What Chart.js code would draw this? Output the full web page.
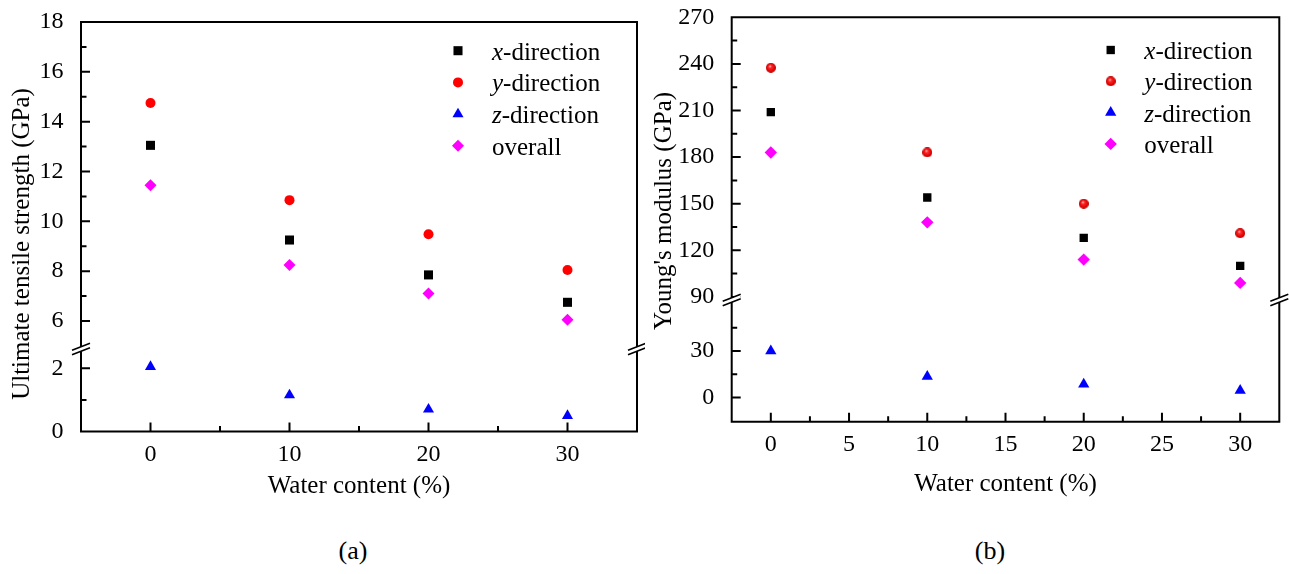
<!DOCTYPE html>
<html lang="en">
<head>
    <meta charset="UTF-8">
    <title>Strength and modulus vs water content</title>
    <script src="https://cdn.jsdelivr.net/npm/chart.js"></script>
    <style>
        body {
            margin: 0;
            background: #fff;
            width: 1289px;
            height: 574px;
            position: relative;
            overflow: hidden;
            font-family: "Liberation Serif", "Times New Roman", serif;
        }
        canvas {
            position: absolute;
            top: 0;
            display: block;
        }
        #chartA { left: 0; }
        #chartB { left: 645px; }
        .caption {
            position: absolute;
            top: 536px;
            font-size: 26px;
            line-height: 30px;
            transform: translateX(-50%);
            color: #000;
        }
    </style>
</head>
<body>
    <canvas id="chartA" width="645" height="520"></canvas>
    <canvas id="chartB" width="644" height="520"></canvas>
    <div class="caption" style="left:353px">(a)</div>
    <div class="caption" style="left:990px">(b)</div>

    <script>
        // water content (%), shared by both panels
        const waterContent = [0, 10, 20, 30];
        const seriesLabels = ['x-direction', 'y-direction', 'z-direction', 'overall'];

        // (a) ultimate tensile strength (GPa)
        const utsX = [13.05, 9.25, 7.85, 6.75];
        const utsY = [14.75, 10.85, 9.48, 8.05];
        const utsZ = [2.05, 1.15, 0.70, 0.50];
        const utsOverall = [11.45, 8.25, 7.10, 6.05];

        // (b) Young's modulus (GPa)
        const ymX = [209, 154, 128, 110];
        const ymY = [237.5, 183, 150, 131];
        const ymZ = [30, 13.5, 8.5, 4.5];
        const ymOverall = [183, 138, 114, 99];

        // tick values
        const xTicksA = [0, 10, 20, 30];
        const xMinorA = [5, 15, 25];
        const yUpTicksA = [6, 8, 10, 12, 14, 16, 18];
        const yUpMinorA = [7, 9, 11, 13, 15, 17];
        const yLoTicksA = [0, 2];
        const yLoMinorA = [1];

        const xTicksB = [0, 5, 10, 15, 20, 25, 30];
        const xMinorB = [2.5, 7.5, 12.5, 17.5, 22.5, 27.5];
        const yUpTicksB = [90, 120, 150, 180, 210, 240, 270];
        const yUpMinorB = [105, 135, 165, 195, 225, 255];
        const yLoTicksB = [0, 30];
        const yLoMinorB = [15, 45];

        const FONT = '"Liberation Serif", "Times New Roman", serif';
        Chart.defaults.font.family = FONT;
        Chart.defaults.color = '#000';

        // shaded red ball used for the y-direction points in (b)
        function makeSphere(d) {
            const c = document.createElement('canvas');
            c.width = d;
            c.height = d;
            const g = c.getContext('2d');
            const grad = g.createRadialGradient(d * 0.4, d * 0.32, 0, d / 2, d / 2, d / 2);
            grad.addColorStop(0, '#ffe6e6');
            grad.addColorStop(0.3, '#ff2a2a');
            grad.addColorStop(0.8, '#e00000');
            grad.addColorStop(1, '#a80000');
            g.fillStyle = grad;
            g.beginPath();
            g.arc(d / 2, d / 2, d / 2, 0, Math.PI * 2);
            g.fill();
            return c;
        }

        function pts(ys) {
            return waterContent.map((x, i) => ({ x: x, y: ys[i] }));
        }

        function drawBreak(ctx, x, y) {
            const dx = 9, dy = 3.5, gap = 2.2;
            ctx.fillStyle = '#fff';
            ctx.beginPath();
            ctx.moveTo(x - dx, y - gap + dy);
            ctx.lineTo(x + dx, y - gap - dy);
            ctx.lineTo(x + dx, y + gap - dy);
            ctx.lineTo(x - dx, y + gap + dy);
            ctx.closePath();
            ctx.fill();
            ctx.beginPath();
            ctx.moveTo(x - dx, y - gap + dy);
            ctx.lineTo(x + dx, y - gap - dy);
            ctx.moveTo(x - dx, y + gap + dy);
            ctx.lineTo(x + dx, y + gap - dy);
            ctx.lineWidth = 1.6;
            ctx.strokeStyle = '#000';
            ctx.stroke();
        }

        // frame, inward ticks, axis breaks, titles and legend
        const axisDecor = {
            id: 'axisDecor',
            beforeDatasetsDraw(chart, args, o) {
                const ctx = chart.ctx;
                const a = chart.chartArea;
                const xs = chart.scales.x, up = chart.scales.yUp, lo = chart.scales.yLo;
                ctx.save();
                ctx.strokeStyle = '#000';
                ctx.lineWidth = 2;
                ctx.beginPath();
                ctx.moveTo(a.left - 1, a.top); ctx.lineTo(a.right + 1, a.top);
                ctx.moveTo(a.left - 1, a.bottom); ctx.lineTo(a.right + 1, a.bottom);
                ctx.moveTo(a.left, a.top); ctx.lineTo(a.left, a.bottom);
                ctx.moveTo(a.right, a.top); ctx.lineTo(a.right, a.bottom);
                xs.ticks.forEach(t => {
                    const p = xs.getPixelForValue(t.value);
                    ctx.moveTo(p, a.bottom); ctx.lineTo(p, a.bottom - 9);
                });
                o.xMinor.forEach(v => {
                    const p = xs.getPixelForValue(v);
                    ctx.moveTo(p, a.bottom); ctx.lineTo(p, a.bottom - 5.5);
                });
                [up, lo].forEach(s => {
                    s.ticks.forEach(t => {
                        const p = s.getPixelForValue(t.value);
                        ctx.moveTo(a.left, p); ctx.lineTo(a.left + 9, p);
                    });
                });
                o.upMinor.forEach(v => {
                    const p = up.getPixelForValue(v);
                    ctx.moveTo(a.left, p); ctx.lineTo(a.left + 5.5, p);
                });
                o.loMinor.forEach(v => {
                    const p = lo.getPixelForValue(v);
                    ctx.moveTo(a.left, p); ctx.lineTo(a.left + 5.5, p);
                });
                ctx.stroke();
                drawBreak(ctx, a.left, up.bottom);
                drawBreak(ctx, a.right, up.bottom);
                ctx.restore();
            },
            afterDraw(chart, args, o) {
                const ctx = chart.ctx;
                const a = chart.chartArea;
                ctx.save();
                ctx.fillStyle = '#000';
                ctx.font = '25px ' + FONT;
                ctx.textAlign = 'center';
                ctx.textBaseline = 'middle';
                ctx.fillText(o.xTitle, (a.left + a.right) / 2, a.bottom + o.xTitleDy);
                ctx.translate(o.yTitleX, o.yTitleY);
                ctx.rotate(-Math.PI / 2);
                ctx.fillText(o.yTitle, 0, 0);
                ctx.restore();

                // legend
                ctx.save();
                chart.data.datasets.forEach((ds, i) => {
                    const y = a.top + o.legendTop + i * o.legendStep;
                    const mx = a.left + o.legendMarker;
                    ctx.fillStyle = ds.backgroundColor;
                    if (Chart.helpers && Chart.helpers.drawPoint) {
                        Chart.helpers.drawPoint(ctx, {
                            pointStyle: ds.pointStyle,
                            radius: ds.pointRadius,
                            rotation: 0,
                            borderWidth: 0
                        }, mx, y);
                    } else {
                        ctx.beginPath();
                        ctx.arc(mx, y, 5, 0, Math.PI * 2);
                        ctx.fill();
                    }
                    let tx = a.left + o.legendText;
                    ctx.fillStyle = '#000';
                    ctx.textAlign = 'left';
                    ctx.textBaseline = 'alphabetic';
                    const m = /^([xyz])(-.*)$/.exec(ds.label);
                    if (m) {
                        ctx.font = 'italic 25px ' + FONT;
                        ctx.fillText(m[1], tx, y + 9);
                        tx += ctx.measureText(m[1]).width;
                        ctx.font = '25px ' + FONT;
                        ctx.fillText(m[2], tx, y + 9);
                    } else {
                        ctx.font = '25px ' + FONT;
                        ctx.fillText(ds.label, tx, y + 9);
                    }
                });
                ctx.restore();
            }
        };

        function makeDatasets(xs, ys, zs, all, ballStyle, sizes) {
            return [
                { label: seriesLabels[0], data: pts(xs), yAxisID: 'yUp', pointStyle: 'rect',
                  pointRadius: sizes[0], backgroundColor: '#000000' },
                { label: seriesLabels[1], data: pts(ys), yAxisID: 'yUp', pointStyle: ballStyle,
                  pointRadius: sizes[1], backgroundColor: '#ff0000' },
                { label: seriesLabels[2], data: pts(zs), yAxisID: 'yLo', pointStyle: 'triangle',
                  pointRadius: sizes[2], backgroundColor: '#0000ff' },
                { label: seriesLabels[3], data: pts(all), yAxisID: 'yUp', pointStyle: 'rectRot',
                  pointRadius: sizes[3], backgroundColor: '#ff00ff' }
            ].map(d => Object.assign(d, {
                borderWidth: 0,
                borderColor: d.backgroundColor,
                pointHoverRadius: d.pointRadius
            }));
        }

        function yScale(min, max, ticks, weight, order, width) {
            return {
                type: 'linear',
                position: 'left',
                stack: 'y',
                stackWeight: weight,
                weight: order,
                min: min,
                max: max,
                afterBuildTicks: s => { s.ticks = ticks.map(v => ({ value: v })); },
                afterFit: s => {
                    s.width = width;
                    s.paddingTop = 0;
                    s.paddingBottom = 0;
                },
                grid: { display: false },
                border: { display: false },
                ticks: { padding: 9.5, autoSkip: false, font: { size: 24 }, color: '#000',
                         callback: v => String(v) }
            };
        }

        function makePanel(id, datasets, o) {
            new Chart(document.getElementById(id), {
                type: 'scatter',
                data: { datasets: datasets },
                options: {
                    responsive: false,
                    animation: false,
                    layout: { padding: o.padding },
                    scales: {
                        x: {
                            type: 'linear',
                            position: 'bottom',
                            min: o.xMin,
                            max: o.xMax,
                            afterBuildTicks: s => { s.ticks = o.xTicks.map(v => ({ value: v })); },
                            afterFit: s => {
                                s.height = o.xHeight;
                                s.paddingLeft = 0;
                                s.paddingRight = 0;
                            },
                            grid: { display: false },
                            border: { display: false },
                            ticks: { padding: 0.5, autoSkip: false, maxRotation: 0, font: { size: 24 },
                                     color: '#000', callback: v => String(v) }
                        },
                        yLo: yScale(o.loMin, o.loMax, o.loTicks, o.loWeight, 0, o.yWidth),
                        yUp: yScale(o.upMin, o.upMax, o.upTicks, o.upWeight, 1, o.yWidth)
                    },
                    plugins: {
                        legend: { display: false },
                        tooltip: { enabled: false },
                        axisDecor: o.decor
                    }
                },
                plugins: [axisDecor]
            });
        }

        makePanel('chartA', makeDatasets(utsX, utsY, utsZ, utsOverall, 'circle', [6.4, 5, 6.4, 6]), {
            padding: { top: 22, right: 8, left: 0, bottom: 0 },
            xMin: -5, xMax: 35, xTicks: xTicksA, xHeight: 88.5, yWidth: 81,
            upMin: 4.876, upMax: 18, upTicks: yUpTicksA, upWeight: 327,
            loMin: 0, loMax: 2.61, loTicks: yLoTicksA, loWeight: 82.5,
            decor: {
                xMinor: xMinorA, upMinor: yUpMinorA, loMinor: yLoMinorA,
                xTitle: 'Water content (%)', xTitleDy: 54.5,
                yTitle: 'Ultimate tensile strength (GPa)', yTitleX: 22, yTitleY: 244,
                legendTop: 28.7, legendStep: 31.7, legendMarker: 377, legendText: 411
            }
        });

        makePanel('chartB', makeDatasets(ymX, ymY, ymZ, ymOverall, makeSphere(10), [5.9, 5, 6.5, 6.2]), {
            padding: { top: 17.3, right: 9.7, left: 0, bottom: 0 },
            xMin: -2.5, xMax: 32.5, xTicks: xTicksB, xHeight: 98.3, yWidth: 86.7,
            upMin: 88, upMax: 270, upTicks: yUpTicksB, upWeight: 282.7,
            loMin: -15.6, loMax: 62.8, loTicks: yLoTicksB, loWeight: 121.7,
            decor: {
                xMinor: xMinorB, upMinor: yUpMinorB, loMinor: yLoMinorB,
                xTitle: 'Water content (%)', xTitleDy: 62.3,
                yTitle: "Young's modulus (GPa)", yTitleX: 19, yTitleY: 211,
                legendTop: 32.7, legendStep: 31.3, legendMarker: 379, legendText: 412.6
            }
        });
    </script>
</body>
</html>
